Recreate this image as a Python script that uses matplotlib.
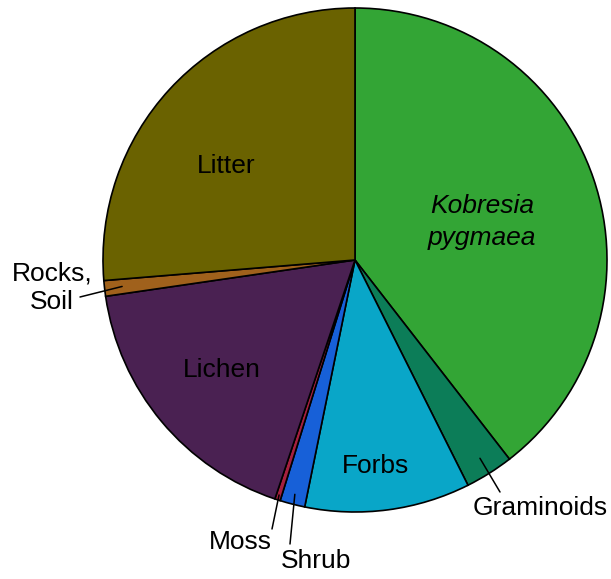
import numpy as np
import matplotlib
matplotlib.use("Agg")
import matplotlib.pyplot as plt

plt.rcParams['font.family'] = ['Liberation Sans', 'DejaVu Sans']

# cover fractions (%), clockwise from 12 o'clock
labels = ["Kobresia\npygmaea", "Graminoids", "Forbs", "Shrub", "Moss", "Lichen", "Rocks,\nSoil", "Litter"]
values = [39.5, 3.1, 10.6, 1.6, 0.35, 17.55, 1.0, 26.3]
colors = ["#33a535", "#0c7d58", "#09a6c8", "#1760d8", "#a5203f", "#4a2152", "#a0611c", "#6a6200"]

# pie geometry in pixel units (y up)
cx, cy, R = 355, 319, 252

fig = plt.figure(figsize=(6.11, 5.79), dpi=100)
ax = fig.add_axes([0, 0, 1, 1])
wedges, _ = ax.pie(values, colors=colors, startangle=90, counterclock=False,
                   center=(cx, cy), radius=R, frame=True,
                   wedgeprops=dict(edgecolor="black", linewidth=1.2))
ax.set_xlim(0, 611)
ax.set_ylim(0, 579)
ax.set_aspect("equal")
ax.axis("off")


def on_wedge(w, frac, dang=0.0):
    a = np.deg2rad((w.theta1 + w.theta2) / 2 + dang)
    return cx + frac * R * np.cos(a), cy + frac * R * np.sin(a)


fs = 19
# inside labels
ax.text(482, 579 - 222, labels[0], ha="center", va="center", fontsize=fs,
        style="italic", linespacing=1.4)
ax.text(226, 579 - 166, labels[7], ha="center", va="center", fontsize=fs)
ax.text(222, 579 - 370, labels[5], ha="center", va="center", fontsize=fs)
ax.text(375, 579 - 466, labels[2], ha="center", va="center", fontsize=fs)

# outside labels with leader lines: (index, wedge radius frac, leader end, text pos)
outside = [
    (1, 0.93, (500, 579 - 492), (540, 579 - 508)),
    (4, 0.98, (272, 579 - 529), (240, 579 - 542)),
    (3, 0.96, (290, 579 - 544), (316, 579 - 561)),
    (6, 0.93, (80, 579 - 297), (52, 579 - 288)),
]
for i, frac, end, pos in outside:
    ax.annotate("", xy=on_wedge(wedges[i], frac), xytext=end,
                arrowprops=dict(arrowstyle="-", lw=1.1, color="black",
                                shrinkA=0, shrinkB=0))
    ax.text(pos[0], pos[1], labels[i], ha="center", va="center", fontsize=fs,
            linespacing=1.25)

fig.savefig("out.png", dpi=100)
